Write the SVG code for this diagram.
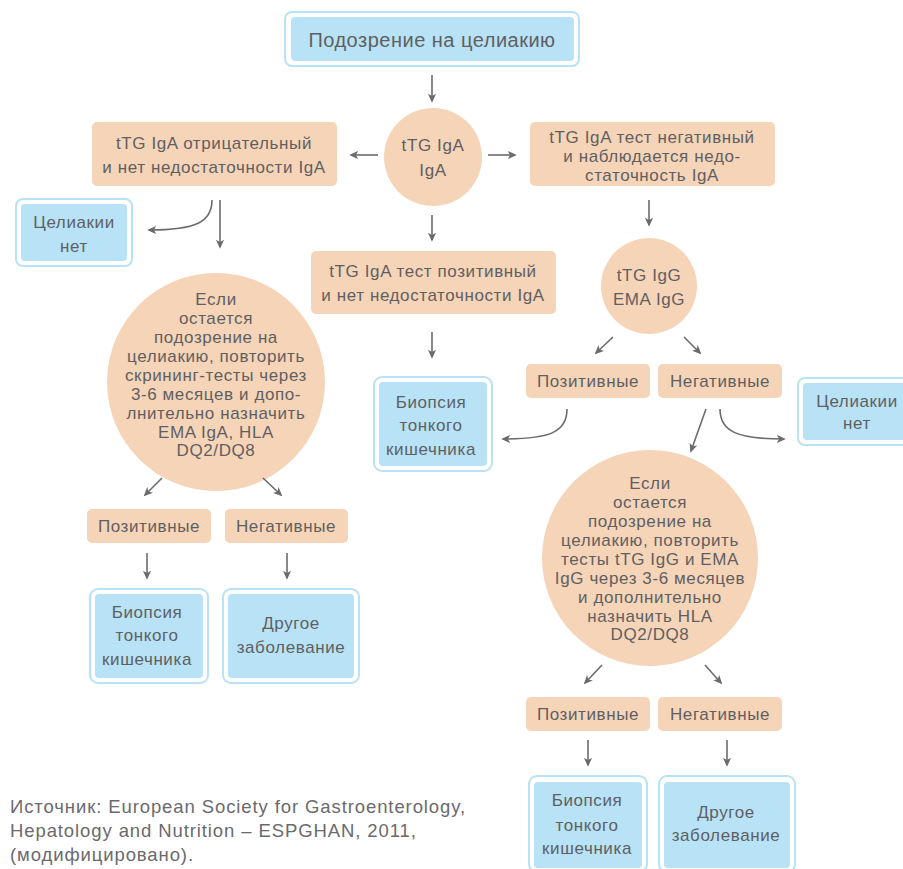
<svg xmlns="http://www.w3.org/2000/svg" width="903" height="869" viewBox="0 0 903 869">
<defs>
<marker id="ah" viewBox="0 0 10 10" refX="8" refY="5" markerWidth="9" markerHeight="9" markerUnits="userSpaceOnUse" orient="auto">
<path d="M0,0.5 L10,5 L0,9.5 L2.5,5 z" fill="#6b6b6e"/>
</marker>
</defs>
<style>
text{font-family:"Liberation Sans","Noto Sans",Arial,sans-serif;fill:#5f5f62;text-anchor:middle;dominant-baseline:central}
.t15{font-size:17px;letter-spacing:0.6px}
.t17{font-size:20px;letter-spacing:0.5px}
.p{fill:#f6d4b8}
.bo{fill:#ffffff;stroke:#b8e2f6;stroke-width:2}
.bi{fill:#b8e2f6}
.c{fill:none;stroke:#6b6b6e;stroke-width:1.6;marker-end:url(#ah)}
.src{text-anchor:start;font-size:18.5px;letter-spacing:0.9px;fill:#6a6a6d}
</style>
<rect width="903" height="869" fill="#ffffff"/>

<g id="n_start">
<rect class="bo" x="285" y="12" width="294" height="54" rx="7"/>
<rect class="bi" x="291" y="17" width="283" height="44" rx="4"/>
<text class="t17" x="432" y="40">Подозрение на целиакию</text>
</g>

<g id="n_ttgiga">
<circle class="p" cx="433" cy="157" r="49"/>
<text class="t15" x="433" y="145">tTG IgA</text>
<text class="t15" x="433" y="170">IgA</text>
</g>

<g id="n_neg_left">
<rect class="p" x="92" y="122" width="245" height="64" rx="5"/>
<text class="t15" x="214" y="143">tTG IgA отрицательный</text>
<text class="t15" x="214" y="167">и нет недостаточности IgA</text>
</g>

<g id="n_neg_right">
<rect class="p" x="530" y="122" width="245" height="64" rx="5"/>
<text class="t15" x="652" y="137">tTG IgA тест негативный</text>
<text class="t15" x="652" y="156">и наблюдается недо-</text>
<text class="t15" x="652" y="175">статочность IgA</text>
</g>

<g id="n_no_celiac_left">
<rect class="bo" x="16" y="199" width="116" height="67" rx="7"/>
<rect class="bi" x="21" y="204" width="106" height="57" rx="4"/>
<text class="t15" x="74" y="222">Целиакии</text>
<text class="t15" x="74" y="246">нет</text>
</g>

<g id="n_pos_mid">
<rect class="p" x="311" y="251" width="245" height="63" rx="5"/>
<text class="t15" x="433" y="271">tTG IgA тест позитивный</text>
<text class="t15" x="433" y="295">и нет недостаточности IgA</text>
</g>

<g id="n_ttgigg">
<circle class="p" cx="649" cy="286" r="48"/>
<text class="t15" x="649" y="275">tTG IgG</text>
<text class="t15" x="649" y="299">EMA IgG</text>
</g>

<g id="n_circle_left">
<circle class="p" cx="216" cy="382" r="109"/>
<text class="t15" x="216" y="299">Если</text>
<text class="t15" x="216" y="318">остается</text>
<text class="t15" x="216" y="337">подозрение на</text>
<text class="t15" x="216" y="356">целиакию, повторить</text>
<text class="t15" x="216" y="375">скрининг-тесты через</text>
<text class="t15" x="216" y="394">3-6 месяцев и допо-</text>
<text class="t15" x="216" y="413">лнительно назначить</text>
<text class="t15" x="216" y="432">EMA IgA, HLA</text>
<text class="t15" x="216" y="450">DQ2/DQ8</text>
</g>

<g id="n_biopsy_mid">
<rect class="bo" x="374" y="377" width="118" height="94" rx="8"/>
<rect class="bi" x="379" y="382" width="108" height="84" rx="4"/>
<text class="t15" x="431" y="402">Биопсия</text>
<text class="t15" x="431" y="425">тонкого</text>
<text class="t15" x="431" y="449">кишечника</text>
</g>

<g id="n_pos_r1">
<rect class="p" x="526" y="364" width="124" height="34" rx="5"/>
<text class="t15" x="588" y="381">Позитивные</text>
</g>

<g id="n_neg_r1">
<rect class="p" x="658" y="364" width="124" height="34" rx="5"/>
<text class="t15" x="720" y="381">Негативные</text>
</g>

<g id="n_no_celiac_right">
<rect class="bo" x="798" y="378" width="118" height="67" rx="7"/>
<rect class="bi" x="803" y="383" width="108" height="57" rx="4"/>
<text class="t15" x="857" y="401">Целиакии</text>
<text class="t15" x="857" y="423">нет</text>
</g>

<g id="n_circle_right">
<circle class="p" cx="650" cy="558" r="108"/>
<text class="t15" x="650" y="483">Если</text>
<text class="t15" x="650" y="502">остается</text>
<text class="t15" x="650" y="521">подозрение на</text>
<text class="t15" x="650" y="540">целиакию, повторить</text>
<text class="t15" x="650" y="559">тесты tTG IgG и EMA</text>
<text class="t15" x="650" y="578">IgG через 3-6 месяцев</text>
<text class="t15" x="650" y="597">и дополнительно</text>
<text class="t15" x="650" y="616">назначить HLA</text>
<text class="t15" x="650" y="634">DQ2/DQ8</text>
</g>

<g id="n_pos_l2">
<rect class="p" x="87" y="509" width="124" height="34" rx="5"/>
<text class="t15" x="149" y="526">Позитивные</text>
</g>

<g id="n_neg_l2">
<rect class="p" x="225" y="509" width="123" height="34" rx="5"/>
<text class="t15" x="286" y="526">Негативные</text>
</g>

<g id="n_biopsy_left">
<rect class="bo" x="90" y="589" width="118" height="94" rx="8"/>
<rect class="bi" x="95" y="594" width="108" height="84" rx="4"/>
<text class="t15" x="147" y="612">Биопсия</text>
<text class="t15" x="147" y="635">тонкого</text>
<text class="t15" x="147" y="659">кишечника</text>
</g>

<g id="n_other_left">
<rect class="bo" x="223" y="589" width="136" height="94" rx="8"/>
<rect class="bi" x="228" y="594" width="126" height="84" rx="4"/>
<text class="t15" x="291" y="623">Другое</text>
<text class="t15" x="291" y="647">заболевание</text>
</g>

<g id="n_pos_r2">
<rect class="p" x="526" y="697" width="124" height="34" rx="5"/>
<text class="t15" x="588" y="714">Позитивные</text>
</g>

<g id="n_neg_r2">
<rect class="p" x="658" y="697" width="124" height="34" rx="5"/>
<text class="t15" x="720" y="714">Негативные</text>
</g>

<g id="n_biopsy_right">
<rect class="bo" x="529" y="776" width="118" height="96" rx="8"/>
<rect class="bi" x="534" y="782" width="108" height="86" rx="4"/>
<text class="t15" x="587" y="800">Биопсия</text>
<text class="t15" x="587" y="825">тонкого</text>
<text class="t15" x="587" y="848">кишечника</text>
</g>

<g id="n_other_right">
<rect class="bo" x="659" y="776" width="136" height="96" rx="8"/>
<rect class="bi" x="664" y="782" width="126" height="86" rx="4"/>
<text class="t15" x="726" y="812">Другое</text>
<text class="t15" x="726" y="835">заболевание</text>
</g>

<g id="connectors">
<path class="c" d="M432,75 L432,101"/>
<path class="c" d="M378,155 L351,155"/>
<path class="c" d="M488,155 L515,155"/>
<path class="c" d="M212,200 C212,222 196,230 149,230"/>
<path class="c" d="M220,200 L220,247"/>
<path class="c" d="M432,215 L432,240"/>
<path class="c" d="M649,200 L649,225"/>
<path class="c" d="M432,332 L432,357"/>
<path class="c" d="M613,337 L596,353"/>
<path class="c" d="M684,337 L700,353"/>
<path class="c" d="M567,409 C567,432 550,439 503,439"/>
<path class="c" d="M706,409 L691,451"/>
<path class="c" d="M720,409 C720,432 738,439 784,439"/>
<path class="c" d="M162,478 L145,495"/>
<path class="c" d="M263,478 L281,495"/>
<path class="c" d="M147,553 L147,578"/>
<path class="c" d="M287,553 L287,578"/>
<path class="c" d="M602,665 L585,683"/>
<path class="c" d="M705,665 L721,683"/>
<path class="c" d="M588,740 L588,765"/>
<path class="c" d="M727,740 L727,765"/>
</g>

<g id="source">
<text class="src" x="10" y="806">Источник: European Society for Gastroenterology,</text>
<text class="src" x="10" y="830">Hepatology and Nutrition – ESPGHAN, 2011,</text>
<text class="src" x="10" y="854">(модифицировано).</text>
</g>
</svg>
